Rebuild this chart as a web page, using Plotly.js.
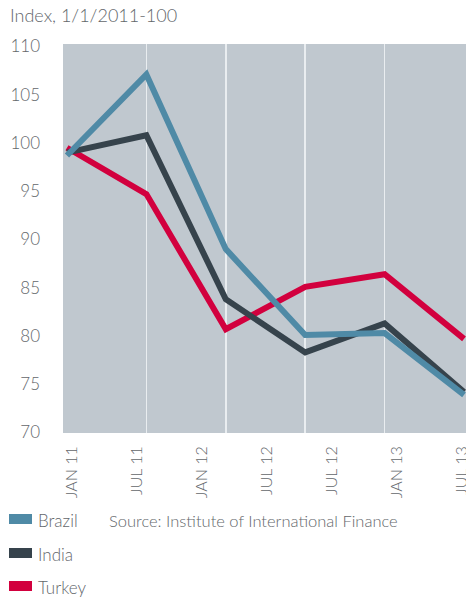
<!DOCTYPE html>
<html>
<head>
<meta charset="utf-8">
<script src="https://cdn.plot.ly/plotly-3.0.1.min.js"></script>
<style>html,body{margin:0;padding:0;background:#fff;}#chart{width:466px;height:598px;}</style>
</head>
<body>
<div id="chart"></div>
<script>
// Data points (six observations, positions 0..5 on the data axis)
var pointIndex = [0, 1, 2, 3, 4, 5];
var brazil = [98.7, 107.1, 89.0, 80.1, 80.3, 73.9];
var india  = [99.0, 100.8, 83.8, 78.3, 81.3, 74.2];
var turkey = [99.5, 94.7, 80.7, 85.1, 86.4, 79.7];

// Category tick labels as printed in the source (seven labels)
var tickLabels = ['JAN 11', 'JUL 11', 'JAN 12', 'JUL 12', 'JUL 12', 'JAN 13', 'JUL 13'];
var tickPositions = [0, 1, 2, 3, 4, 5, 6];

var yTicks = [70, 75, 80, 85, 90, 95, 100, 105, 110];

var seriesNames = ['Brazil', 'India', 'Turkey'];
var colors = {Brazil: '#4f8aa6', India: '#36434c', Turkey: '#d2003e'};

var font = 'Lato, "Open Sans", sans-serif';
var textColor = '#63676b';
var W8 = 300;

function mk(name, ys) {
  return {
    type: 'scatter', mode: 'lines', name: name,
    x: pointIndex, y: ys, xaxis: 'x', yaxis: 'y',
    line: {color: colors[name], width: 6, shape: 'linear'},
    showlegend: false, hoverinfo: 'skip'
  };
}

var traces = [
  mk('Turkey', turkey),
  mk('India', india),
  mk('Brazil', brazil),
  // invisible helper trace so the label axis is drawn
  {type: 'scatter', mode: 'markers', x: tickPositions, y: tickPositions.map(function(){return 70;}),
   xaxis: 'x2', yaxis: 'y', marker: {opacity: 0}, showlegend: false, hoverinfo: 'skip'}
];

var W = 466, H = 598, L = 63, R = 0, T = 44, B = 165;
var pw = W - L - R, ph = H - T - B;
function px(x) { return (x - L) / pw; }
function py(y) { return (H - B - y) / ph; }

// manual legend (swatch + label) laid out in paper coordinates
var legendRowsY = [519, 553, 586];
var shapes = [], annotations = [];
seriesNames.forEach(function(n, i) {
  var cy = legendRowsY[i];
  shapes.push({type: 'rect', xref: 'paper', yref: 'paper',
    x0: px(9), x1: px(32), y0: py(cy - 5), y1: py(cy + 5),
    fillcolor: colors[n], line: {width: 0}});
  annotations.push({text: n, xref: 'paper', yref: 'paper',
    x: px(36), y: py(cy + 1), xanchor: 'left', yanchor: 'middle', showarrow: false,
    font: {family: font, size: 17, color: textColor, weight: W8}});
});
annotations.push({
  text: 'Source: Institute of International Finance',
  xref: 'paper', yref: 'paper',
  x: px(107), y: py(521), xanchor: 'left', yanchor: 'middle',
  showarrow: false,
  font: {family: font, size: 16.5, color: textColor, weight: W8}
});

var layout = {
  width: W, height: H,
  margin: {l: L, r: R, t: T, b: B, pad: 0},
  paper_bgcolor: '#ffffff',
  plot_bgcolor: '#c0c8cf',
  font: {family: font, color: textColor, size: 15, weight: W8},
  title: {
    text: 'Index, 1/1/2011-100',
    font: {family: font, size: 18, color: textColor, weight: W8},
    x: 10 / W, xref: 'container', xanchor: 'left',
    y: 1 - 16 / H, yref: 'container', yanchor: 'middle'
  },
  xaxis: {
    range: [-0.05, 5.025],
    tickvals: [1, 2, 3, 4],
    showticklabels: false,
    ticks: '',
    showgrid: true, gridcolor: '#e9edf0', gridwidth: 1.5,
    zeroline: false, showline: false, fixedrange: true
  },
  xaxis2: {
    overlaying: 'x', anchor: 'y', side: 'bottom',
    range: [-0.138, 6.06],
    tickmode: 'array', tickvals: tickPositions, ticktext: tickLabels,
    tickangle: -90, ticks: '', ticklabelstandoff: 9,
    ticklabeloverflow: 'allow',
    tickfont: {family: font, size: 16, color: textColor, weight: W8},
    showgrid: false, zeroline: false, showline: false, fixedrange: true
  },
  yaxis: {
    range: [69.95, 110.25],
    tickmode: 'array', tickvals: yTicks,
    ticks: '', ticklabelstandoff: 22,
    tickfont: {family: font, size: 17, color: textColor, weight: W8},
    showgrid: false, zeroline: false, showline: false, fixedrange: true
  },
  showlegend: false,
  shapes: shapes,
  annotations: annotations
};

Plotly.newPlot('chart', traces, layout, {displayModeBar: false, staticPlot: true});
</script>
</body>
</html>
